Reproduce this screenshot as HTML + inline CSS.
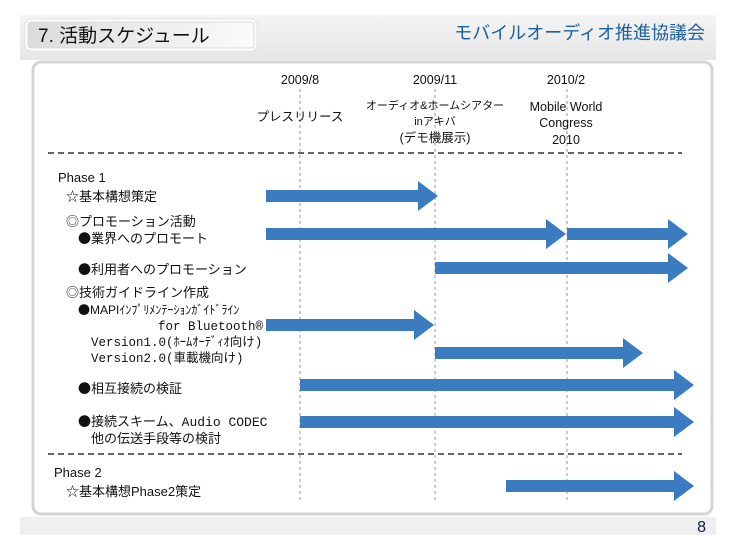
<!DOCTYPE html>
<html><head><meta charset="utf-8"><style>
body{margin:0;background:#fff;width:751px;height:537px;overflow:hidden}
svg text{font-family:"Liberation Sans","Noto Sans CJK JP",sans-serif;fill:#111}
.m{font-family:"Liberation Mono","Noto Sans CJK JP",monospace}
.b{font-family:"Noto Sans CJK JP",sans-serif}
</style></head><body>
<svg width="751" height="537" viewBox="0 0 751 537" xmlns="http://www.w3.org/2000/svg">
<defs>
<linearGradient id="hb" x1="0" y1="0" x2="0" y2="1"><stop offset="0" stop-color="#f4f4f4"/><stop offset="1" stop-color="#e6e6e6"/></linearGradient>
<linearGradient id="tb" x1="0" y1="0" x2="1" y2="0"><stop offset="0" stop-color="#dcdcdc"/><stop offset="1" stop-color="#fbfbfb"/></linearGradient>
</defs>
<rect x="20" y="15" width="696" height="45" fill="url(#hb)"/>
<rect x="25" y="19" width="232" height="32" rx="6" fill="#fff" stroke="#e0e0e0"/>
<rect x="28" y="22" width="226" height="26" rx="3" fill="url(#tb)" stroke="#d8d8d8"/>
<text x="38" y="42" font-size="19">7. 活動スケジュール</text>
<text x="705" y="39" font-size="18" text-anchor="end" style="fill:#1d5f9e">モバイルオーディオ推進協議会</text>
<rect x="20" y="517" width="696" height="18" fill="#efefef"/>
<text x="706" y="532" font-size="16" text-anchor="end" style="fill:#111a40">8</text>
<rect x="33" y="62" width="679" height="452" rx="8" fill="#fff" stroke="#d4d4d4" stroke-width="3"/>
<g stroke="#999" stroke-dasharray="3,3" stroke-width="1">
<line x1="300" y1="89" x2="300" y2="502"/><line x1="435" y1="89" x2="435" y2="502"/><line x1="567" y1="89" x2="567" y2="502"/>
</g>
<g stroke="#333" stroke-dasharray="6,4" stroke-width="1.5">
<line x1="48" y1="153" x2="682" y2="153"/><line x1="48" y1="454" x2="682" y2="454"/>
</g>
<g font-size="12.5" text-anchor="middle">
<text x="300" y="84">2009/8</text><text x="435" y="84">2009/11</text><text x="566" y="84">2010/2</text>
<text x="300" y="121">プレスリリース</text>
<text x="435" y="109" font-size="11">オーディオ&amp;ホームシアター</text>
<text x="435" y="125" font-size="11">inアキバ</text>
<text x="435" y="142">(デモ機展示)</text>
<text x="566" y="111">Mobile World</text><text x="566" y="127">Congress</text><text x="566" y="144">2010</text>
</g>
<g fill="#3a7cbf">
<path d="M266,190h152v-9l20,15l-20,15v-9h-152z"/>
<path d="M266,228h280v-9l20,15l-20,15v-9h-280z"/>
<path d="M567,228h101v-9l20,15l-20,15v-9h-101z"/>
<path d="M435,262h233v-9l20,15l-20,15v-9h-233z"/>
<path d="M266,319h148v-9l20,15l-20,15v-9h-148z"/>
<path d="M435,347h188v-9l20,15l-20,15v-9h-188z"/>
<path d="M300,379h374v-9l20,15l-20,15v-9h-374z"/>
<path d="M300,416h374v-9l20,15l-20,15v-9h-374z"/>
<path d="M506,480h168v-9l20,15l-20,15v-9h-168z"/>
</g>
<g font-size="13">
<text x="58" y="182">Phase 1</text>
<text x="66" y="201">☆基本構想策定</text>
<text x="66" y="226">◎プロモーション活動</text>
<text x="78" y="243"><tspan class="b">●</tspan>業界へのプロモート</text>
<text x="78" y="274"><tspan class="b">●</tspan>利用者へのプロモーション</text>
<text x="66" y="297">◎技術ガイドライン作成</text>
<text x="78" y="314" font-size="12"><tspan class="b">●</tspan>MAPIｲﾝﾌﾟﾘﾒﾝﾃｰｼｮﾝｶﾞｲﾄﾞﾗｲﾝ</text>
<text x="158" y="330" class="m" font-size="12.5">for Bluetooth®</text>
<text x="91" y="346" class="m" font-size="12.5">Version1.0(ﾎｰﾑｵｰﾃﾞｨｵ向け)</text>
<text x="91" y="362" class="m" font-size="12.5">Version2.0(車載機向け)</text>
<text x="78" y="393"><tspan class="b">●</tspan>相互接続の検証</text>
<text x="78" y="426"><tspan class="b">●</tspan>接続スキーム、<tspan class="m">Audio CODEC</tspan></text>
<text x="91" y="443">他の伝送手段等の検討</text>
<text x="54" y="477">Phase 2</text>
<text x="66" y="496">☆基本構想Phase2策定</text>
</g>
</svg>
</body></html>
